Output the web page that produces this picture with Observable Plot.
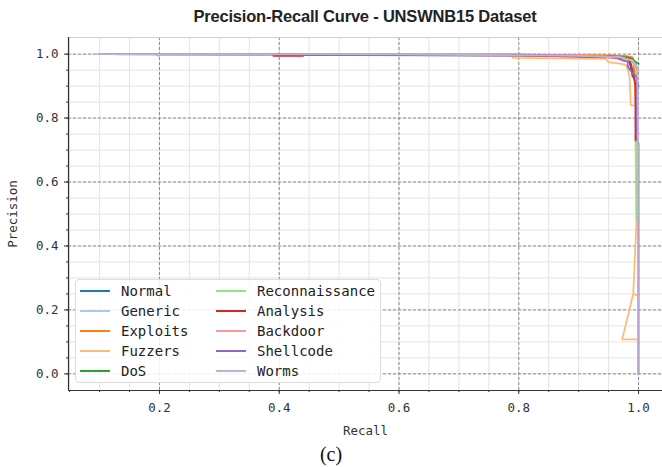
<!DOCTYPE html>
<html><head><meta charset="utf-8">
<script src="https://cdn.jsdelivr.net/npm/d3@7"></script>
<script src="https://cdn.jsdelivr.net/npm/@observablehq/plot@0.6"></script>
<style>
body{margin:0;background:#fff;width:662px;height:467px;overflow:hidden;position:relative;}
#title{position:absolute;top:7px;left:68px;width:594px;text-align:center;font:bold 16.5px "Liberation Sans",Arial,sans-serif;color:#222;letter-spacing:-0.2px;}
#chart{position:absolute;top:37px;left:0;}
#caption{position:absolute;top:443px;left:0;width:662px;text-align:center;font:20px "Liberation Serif",serif;color:#111;}
#legend{position:absolute;left:75px;top:279px;width:304px;height:102px;border:1px solid #ddd;border-radius:4px;background:rgba(255,255,255,0.85);}
.item{position:absolute;height:20px;font:14px "DejaVu Sans Mono",monospace;color:#222;line-height:20px;}
.item span.h{position:absolute;top:9px;width:30px;height:2px;}
.item span.t{position:absolute;left:41px;top:0;white-space:nowrap;}
</style></head>
<body>
<div id="title">Precision-Recall Curve - UNSWNB15 Dataset</div>
<div id="chart"></div>
<div id="legend"></div>
<div id="caption">(c)</div>
<script>
const classes = ["Normal","Generic","Exploits","Fuzzers","DoS","Reconnaissance","Analysis","Backdoor","Shellcode","Worms"];
const colors = ["#1f77b4","#aec7e8","#ff7f0e","#ffbb78","#2ca02c","#98df8a","#d62728","#ff9896","#9467bd","#c5b0d5"];

const recallNormal = [0.10, 0.30, 0.60, 0.85, 0.95, 0.98, 0.985, 0.99, 0.995, 1.0];
const precisionNormal = [1.0, 0.999, 0.998, 0.996, 0.993, 0.99, 0.975, 0.93, 0.92, 0.90];
const recallGeneric = [0.089, 0.195, 0.197, 0.205, 0.5, 0.8, 0.95, 0.99, 0.995, 1.0];
const precisionGeneric = [1.0, 1.0, 0.995, 0.998, 0.997, 0.995, 0.992, 0.985, 0.97, 0.95];
const recallExploits = [0.10, 0.5, 0.8, 0.95, 0.98, 0.99, 0.993, 0.995, 0.997, 1.0];
const precisionExploits = [1.0, 0.999, 0.998, 0.996, 0.994, 0.99, 0.95, 0.85, 0.77, 0.75];
const recallFuzzers = [0.10, 0.79, 0.79, 0.945, 0.95, 0.97, 0.98, 0.985, 0.987, 0.995, 0.995, 0.9966, 0.9911, 1.0, 0.9911, 0.9727, 1.0];
const precisionFuzzers = [1.0, 1.0, 0.988, 0.985, 0.975, 0.97, 0.965, 0.93, 0.84, 0.84, 0.70, 0.478, 0.25, 0.245, 0.25, 0.108, 0.108];
const recallDoS = [0.10, 0.5, 0.55, 0.8, 0.95, 0.98, 0.99, 0.995, 1.0];
const precisionDoS = [1.0, 0.999, 0.997, 0.996, 0.993, 0.99, 0.985, 0.975, 0.97];
const recallRecon = [0.10, 0.6, 0.9, 0.97, 0.99, 0.996, 0.9966, 0.9966, 1.0];
const precisionRecon = [1.0, 0.998, 0.995, 0.99, 0.98, 0.95, 0.80, 0.478, 0.478];
const recallAnalysis = [0.10, 0.39, 0.39, 0.44, 0.44, 0.8, 0.95, 0.985, 0.99, 0.995, 0.995];
const precisionAnalysis = [1.0, 1.0, 0.995, 0.995, 0.998, 0.996, 0.99, 0.985, 0.95, 0.90, 0.73];
const recallBackdoor = [0.10, 0.6, 0.9, 0.97, 0.99, 0.995, 1.0];
const precisionBackdoor = [1.0, 0.999, 0.997, 0.99, 0.98, 0.96, 0.95];
const recallShellcode = [0.10, 0.44, 0.44, 0.8, 0.9, 0.96, 0.977, 0.982, 0.982, 0.991, 0.997, 0.997, 1.0, 1.0];
const precisionShellcode = [1.0, 1.0, 0.999, 0.998, 0.995, 0.99, 0.978, 0.978, 0.96, 0.938, 0.93, 0.74, 0.72, 0.0];
const recallWorms = [0.099, 0.3, 0.6, 0.9, 0.97, 0.99, 0.998, 0.999, 0.999];
const precisionWorms = [1.0, 1.0, 0.999, 0.995, 0.99, 0.98, 0.96, 0.80, 0.0];

const majorTicks = [0.0, 0.2, 0.4, 0.6, 0.8, 1.0];
const minorTicks = d3.range(0, 21).map(i => i * 0.05);
const xDomain = [0.0481, 1.040];
const yDomain = [-0.052, 1.052];

const curves = [
  [recallNormal, precisionNormal], [recallGeneric, precisionGeneric], [recallExploits, precisionExploits],
  [recallFuzzers, precisionFuzzers], [recallDoS, precisionDoS], [recallRecon, precisionRecon],
  [recallAnalysis, precisionAnalysis], [recallBackdoor, precisionBackdoor], [recallShellcode, precisionShellcode],
  [recallWorms, precisionWorms]
];
const rows = [];
curves.forEach(([r, p], k) => r.forEach((v, i) => rows.push({cls: classes[k], r: v, p: p[i]})));

const xMajor = majorTicks.filter(t => t >= xDomain[0]);
const xMinor = minorTicks.filter(t => t >= xDomain[0] && t <= xDomain[1]);

const chart = Plot.plot({
  width: 662, height: 405,
  marginTop: 0, marginRight: 0, marginBottom: 52, marginLeft: 68,
  style: {fontFamily: "'DejaVu Sans Mono', monospace", fontSize: "12.5px", color: "#222", background: "transparent"},
  x: {domain: xDomain, range: [68, 662]},
  y: {domain: yDomain},
  color: {domain: classes, range: colors},
  marks: [
    Plot.gridX(xMinor, {stroke: "#e4e4e4", strokeOpacity: 1, strokeWidth: 1}),
    Plot.gridY(minorTicks, {stroke: "#e4e4e4", strokeOpacity: 1, strokeWidth: 1}),
    Plot.gridX(xMajor, {stroke: "#8a8a8a", strokeOpacity: 1, strokeWidth: 1, strokeDasharray: "3,2"}),
    Plot.gridY(majorTicks, {stroke: "#8a8a8a", strokeOpacity: 1, strokeWidth: 1, strokeDasharray: "3,2"}),
    Plot.frame({stroke: "#d0d0d0"}),
    Plot.line(rows, {x: "r", y: "p", z: "cls", stroke: "cls", strokeWidth: 1.8, curve: "linear"}),
    Plot.ruleX([xDomain[0]], {stroke: "#333", strokeWidth: 1.2}),
    Plot.ruleY([yDomain[0]], {stroke: "#333", strokeWidth: 1.2}),
    Plot.axisX(xMinor, {tickSize: 2, tickFormat: () => "", label: null, stroke: "#333"}),
    Plot.axisY(minorTicks, {tickSize: 2, tickFormat: () => "", label: null, stroke: "#333"}),
    Plot.axisX(xMajor, {tickSize: 4, tickPadding: 9, tickFormat: d3.format(".1f"), label: "Recall", labelAnchor: "center", labelOffset: 44, labelArrow: false, stroke: "#333", fill: "#333"}),
    Plot.axisY(majorTicks, {tickSize: 4, tickPadding: 6, tickFormat: d3.format(".1f"), label: "Precision", labelAnchor: "center", labelOffset: 60, labelArrow: false, stroke: "#333", fill: "#333"})
  ]
});
document.getElementById("chart").appendChild(chart);

const legend = document.getElementById("legend");
classes.forEach((c, i) => {
  const col = Math.floor(i / 5), row = i % 5;
  const d = document.createElement("div");
  d.className = "item";
  d.style.left = (col === 0 ? 4 : 140) + "px";
  d.style.top = (row * 20 + 1) + "px";
  const h = document.createElement("span");
  h.className = "h"; h.style.background = colors[i];
  const t = document.createElement("span");
  t.className = "t"; t.textContent = c;
  d.appendChild(h); d.appendChild(t);
  legend.appendChild(d);
});
</script>
</body></html>
